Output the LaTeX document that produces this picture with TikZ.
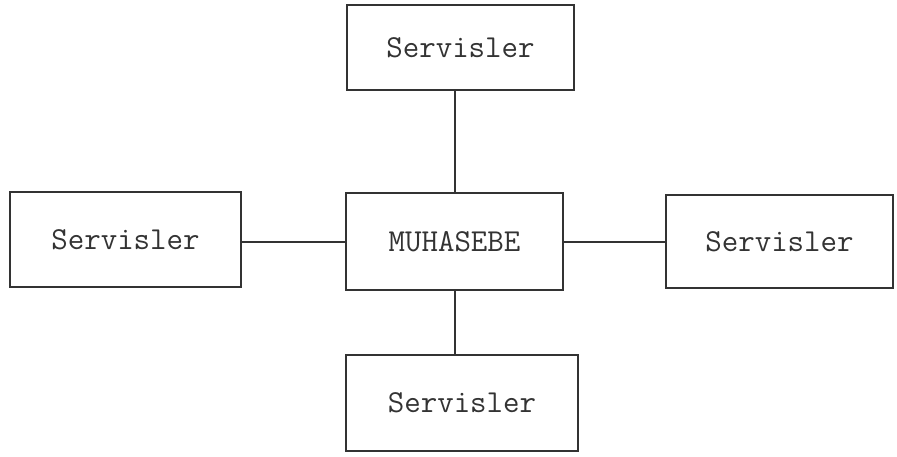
\documentclass[tikz,border=0pt]{standalone}
\definecolor{ink}{HTML}{333333}
\begin{document}
\begin{tikzpicture}[x=1pt,y=1pt,
  boxx/.style={draw=ink,line width=2pt,rectangle,inner sep=0pt,
    font=\ttfamily\fontsize{32}{36}\selectfont,text=ink},
  link/.style={draw=ink,line width=2pt}]
\useasboundingbox (0,0) rectangle (897,456);
\node[boxx,minimum width=227pt,minimum height=85pt] (top) at (460.5,408.5) {Servisler};
\node[boxx,minimum width=231pt,minimum height=95pt] (left) at (125.5,216.5) {Servisler};
\node[boxx,minimum width=217pt,minimum height=97pt] (mid) at (454.5,214.5) {MUHASEBE};
\node[boxx,minimum width=227pt,minimum height=93pt] (right) at (779.5,214.5) {Servisler};
\node[boxx,minimum width=232pt,minimum height=96pt] (bot) at (462,53) {Servisler};
\draw[link] (mid.north) -- (mid.north |- top.south);
\draw[link] (mid.south) -- (mid.south |- bot.north);
\draw[link] (mid.west) -- (mid.west -| left.east);
\draw[link] (mid.east) -- (mid.east -| right.west);
\end{tikzpicture}
\end{document}
